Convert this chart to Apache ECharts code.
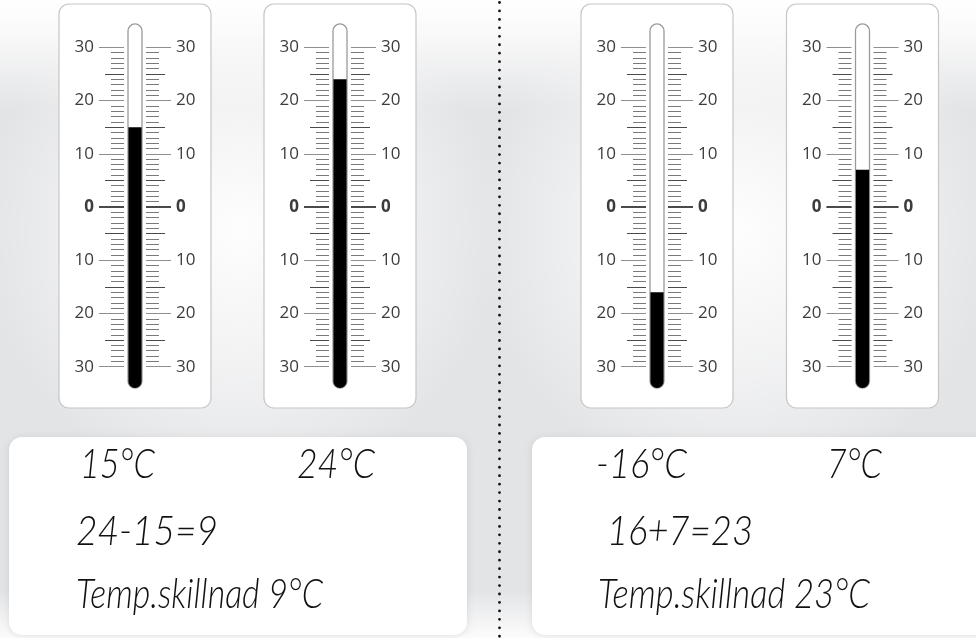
<!DOCTYPE html>
<html><head><meta charset="utf-8">
<script src="https://cdn.jsdelivr.net/npm/echarts@6/dist/echarts.min.js"></script>
<style>html,body{margin:0;padding:0;background:#fff}#c{width:976px;height:638px}</style>
</head><body><div id="c"></div>
<script>
// ---------- data ----------
const thermometerNames = ['A', 'B', 'C', 'D'];
const temperatures = [15, 24, -16, 7];
const scaleMin = -30, scaleMax = 30, majorStep = 10;
const halfStepTicks = [-25, -15, -5, 5, 15, 25];
const zeroTick = [0];
const tubeTopValue = 34.4, tubeBottomValue = -34;
const cardTextsLeft = ['15°C', '24°C', '24-15=9', 'Temp.skillnad 9°C'];
const cardTextsRight = ['-16°C', '7°C', '16+7=23', 'Temp.skillnad 23°C'];

// ---------- layout ----------
const W = 976, H = 638;
const centers = [135, 340, 657, 862.5];
const gridTop = 47.3, gridBottomY = 366.7, halfGap = 11;
const textPos = [ // x, baseline, target width
  [[80, 479, 75], [297, 479, 78], [76, 546, 142], [76, 609, 247]],
  [[596, 479, 91], [827, 479, 55], [607, 546, 146], [598, 609, 272]]
];
const handFont = 'italic 300 41px Lato';
const mctx = document.createElement('canvas').getContext('2d');
function fit(text, target) { mctx.font = handFont; return target / mctx.measureText(text).width; }

const chart = echarts.init(document.getElementById('c'), null, {renderer: 'canvas', width: W, height: H});
const grids = [], xAxes = [], yAxes = [], series = [];
const labelStyle = {
  show: true, margin: 30, fontFamily: 'Open Sans', fontSize: 17, color: '#3c3c3c',
  formatter: v => v === 0 ? '{b|0}' : String(Math.abs(v)),
  rich: {b: {fontWeight: 'bold', fontFamily: 'Open Sans', fontSize: 17, color: '#3c3c3c'}}
};
temperatures.forEach((t, i) => {
  const c = centers[i];
  grids.push({left: c - halfGap, top: gridTop, width: 2 * halfGap, height: gridBottomY - gridTop, containLabel: false, outerBoundsMode: 'none'});
  xAxes.push({gridIndex: i, type: 'category', data: [thermometerNames[i]], show: false});
  const base = {gridIndex: i, type: 'value', min: scaleMin, max: scaleMax, interval: majorStep,
    axisLine: {show: false}, splitLine: {show: false}, z: 3};
  ['left', 'right'].forEach(pos => yAxes.push(Object.assign({}, base, {
    position: pos, axisLabel: labelStyle,
    axisTick: {show: true, length: 25, lineStyle: {color: '#8f8f8f', width: 1}},
    minorTick: {show: true, splitNumber: 10, length: 13, lineStyle: {color: '#7a7a7a', width: 1}}
  })));
  ['left', 'right'].forEach(pos => yAxes.push(Object.assign({}, base, {
    position: pos, axisLabel: {show: false},
    axisTick: {show: true, length: 19, customValues: halfStepTicks, lineStyle: {color: '#4a4a4a', width: 1}}
  })));
  ['left', 'right'].forEach(pos => yAxes.push(Object.assign({}, base, {
    position: pos, axisLabel: {show: false},
    axisTick: {show: true, length: 25, customValues: zeroTick, lineStyle: {color: '#4a4a4a', width: 2}}
  })));
  series.push({
    type: 'custom', name: thermometerNames[i], xAxisIndex: i, yAxisIndex: 6 * i, clip: false, z: 4,
    data: [[0, t]], encode: {x: 0, y: 1},
    renderItem: (params, api) => {
      const v = api.value(1);
      const top = api.coord([0, tubeTopValue]);
      const bot = api.coord([0, tubeBottomValue]);
      const lvl = api.coord([0, v]);
      const cx = top[0];
      return {type: 'group', children: [
        {type: 'rect', shape: {x: cx - 7, y: top[1], width: 14, height: bot[1] - top[1], r: 7},
          style: {fill: '#fff', stroke: '#9a9a9a', lineWidth: 1.3}},
        {type: 'rect', shape: {x: cx - 6.6, y: lvl[1], width: 13.2, height: bot[1] - lvl[1], r: [0, 0, 6.6, 6.6]},
          style: {fill: '#000'}}
      ]};
    }
  });
});

const graphics = [];
// background
graphics.push({type: 'rect', z: -10, shape: {x: 0, y: 0, width: W, height: H}, style: {fill: '#e3e4e6'}, silent: true});
[[240, 230], [737, 230]].forEach(p => graphics.push({type: 'circle', z: -9, shape: {cx: p[0], cy: p[1], r: 260},
  style: {fill: new echarts.graphic.RadialGradient(0.5, 0.5, 0.5, [
    {offset: 0, color: 'rgba(255,255,255,0.95)'}, {offset: 0.55, color: 'rgba(255,255,255,0.5)'}, {offset: 1, color: 'rgba(255,255,255,0)'}])}, silent: true}));
graphics.push({type: 'rect', z: -8, shape: {x: 0, y: 0, width: W, height: 110},
  style: {fill: new echarts.graphic.LinearGradient(0, 0, 0, 1, [{offset: 0, color: 'rgba(255,255,255,1)'}, {offset: 0.3, color: 'rgba(255,255,255,0.8)'}, {offset: 1, color: 'rgba(255,255,255,0)'}])}, silent: true});
graphics.push({type: 'rect', z: -8, shape: {x: 0, y: 590, width: W, height: 48},
  style: {fill: new echarts.graphic.LinearGradient(0, 0, 0, 1, [{offset: 0, color: 'rgba(255,255,255,0)'}, {offset: 1, color: 'rgba(255,255,255,0.9)'}])}, silent: true});
// panels
centers.forEach(c => graphics.push({type: 'rect', z: 1, shape: {x: c - 76, y: 4, width: 152, height: 404, r: 10},
  style: {fill: '#fff', stroke: '#c6c6c6', lineWidth: 1.2}, silent: true}));
// cards
[[9, 458], [532, 470]].forEach(p => graphics.push({type: 'rect', z: 1, shape: {x: p[0], y: 437, width: p[1], height: 198, r: 13},
  style: {fill: '#fff', shadowBlur: 6, shadowColor: 'rgba(0,0,0,0.10)', shadowOffsetY: 1}, silent: true}));
// dotted divider
graphics.push({type: 'line', z: 1, shape: {x1: 499.5, y1: 2.5, x2: 499.5, y2: 640},
  style: {stroke: '#111', lineWidth: 2.8, lineDash: [0, 8.45], lineCap: 'round'}, silent: true});
// texts
[cardTextsLeft, cardTextsRight].forEach((arr, k) => arr.forEach((txt, j) => {
  const p = textPos[k][j];
  graphics.push({type: 'text', z: 2, x: p[0], y: p[1] - 14, scaleX: fit(txt, p[2]), silent: true,
    style: {text: txt, x: 0, y: 0, font: handFont, fill: '#111', textAlign: 'left', textVerticalAlign: 'middle'}});
}));

chart.setOption({
  animation: false,
  backgroundColor: '#fff',
  grid: grids, xAxis: xAxes, yAxis: yAxes, series: series,
  graphic: {elements: graphics}
});
</script></body></html>
